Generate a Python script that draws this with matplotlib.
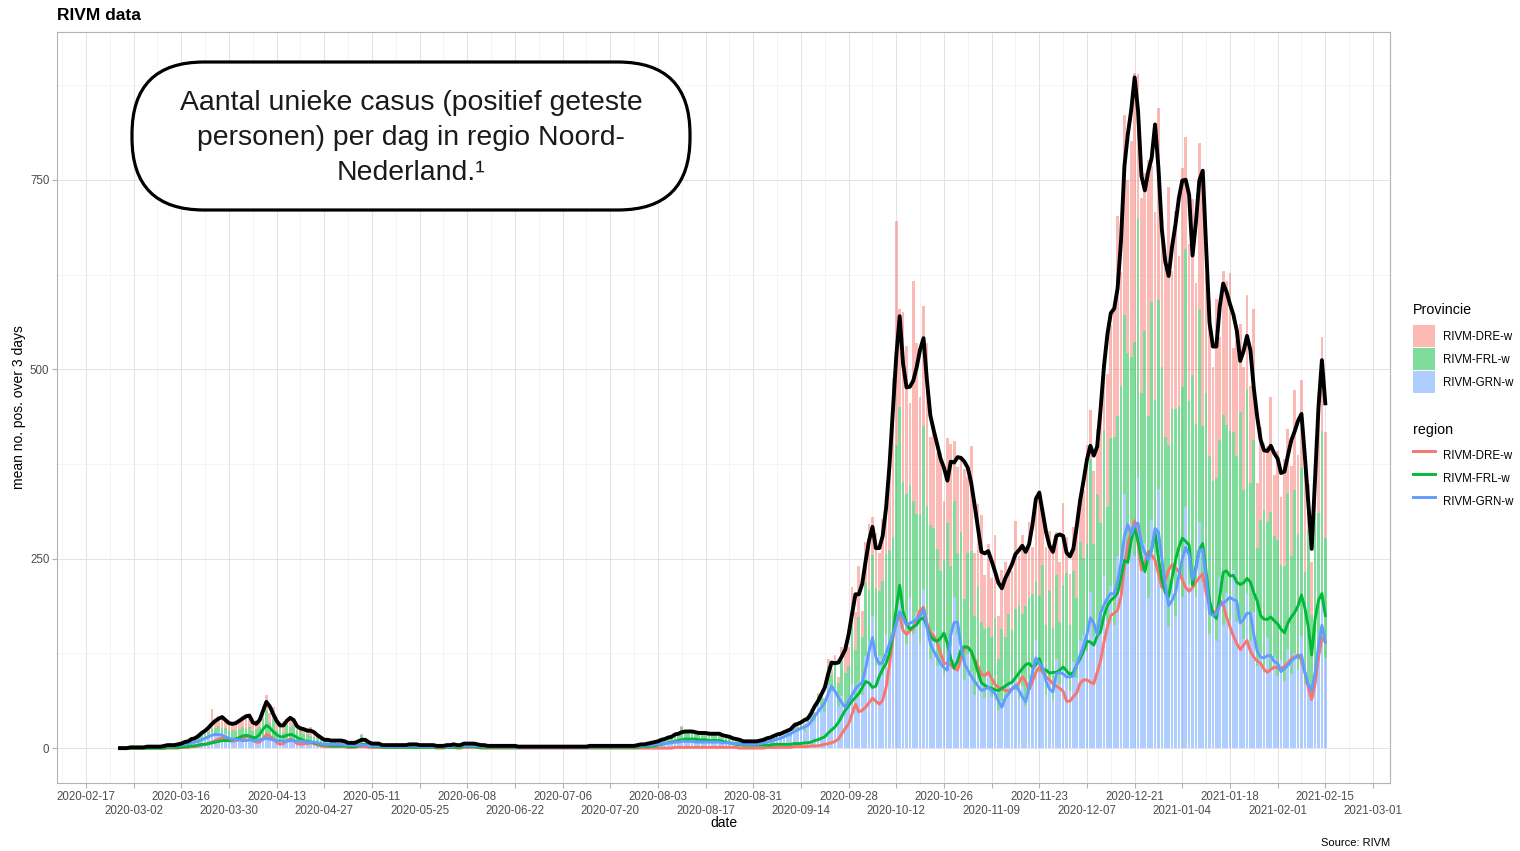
import numpy as np
import pandas as pd
import matplotlib as mpl
mpl.use('Agg')
import matplotlib.pyplot as plt
import matplotlib.dates as mdates
from matplotlib.patches import FancyBboxPatch, Patch
from matplotlib.lines import Line2D

mpl.rcParams['font.family'] = ['Liberation Sans', 'DejaVu Sans']

# ---- data (daily, 2020-02-27 .. 2021-02-15) ----
first_day = '2020-02-27'
last_day = '2021-02-15'
provinces = ['RIVM-DRE-w', 'RIVM-FRL-w', 'RIVM-GRN-w']

grn_bar = [0,0,1,0,1,2,1,1,2,3, 2,3,1,4,3,2,4,5,3,6, 5,9,7,10,12,15,13,20,16,21,
           15,18,11,14,9,13,8,12,10,11, 9,13,10,15,11,13,8,12,8,10, 12,9,10,8,11,7,9,7,8,5,
           6,4,6,5,4,6,3,5,4,3, 5,3,4,2,4,3,2,3,2,1, 2,3,1,2,3,2,4,3,2,1,
           2,3,1,2,2,3,1,2,4,3, 2,4,3,3,2,4,3,2,3,1, 2,3,1,2,2,1,3,1,0,1,
           1,2,0,1,1,2,1,0,1,1, 2,1,0,1,2,1,1,0,2,3, 1,2,3,2,1,2,3,2,1,2,
           2,3,2,4,3,3,5,4,6,5, 7,6,8,7,9,8,11,9,10,7, 9,7,8,10,7,8,9,6,8,7,
           5,7,6,4,6,5] + \
          [6,4,7,6,8,7,12,13,11,18, 18,15,25,22,27,22,35,38,36,58,
           57,48,83,74,79,54,69,59,53,84, 70,87,70,121,140,175,108,122,96,150,
           124,158,160,195,189,138,198,150,179,139, 210,176,117,154,108,118,96,124,135,199,
           149,142,90,124,100,70,94,84,66,96, 68,76,50,62,69,83,86,91,65,82,
           55,92,85,143,101,112,70,90,63,118, 85,108,103,75,114,93,142,149,128,206,
           148,158,151,227,168,214,162,253,208,336, 251,296,253,356,243,271,198,301,240,342,
           225,226,160,234,174,240,200,318,217,234, 200,298,219,236,151,184,142,226,162,205,
           169,235,167,173,144,205,142,180,109,126, 101,146,104,120,95,116,89,131,98,125,
           103,148,85,88,65,105,115,194,119]

frl_bar = [0,0,0,0,0,0,0,0,0,0, 0,0,1,0,1,0,2,1,1,3, 1,4,2,5,6,4,8,6,10,8,
           12,9,11,10,14,12,20,15,18,12, 16,15,28,35,22,25,15,18,12,20, 16,22,12,14,8,11,7,8,5,6,
           3,5,2,4,3,2,4,1,3,2, 1,14,2,4,1,3,2,1,2,0, 1,2,0,1,2,1,1,0,2,1,
           1,0,2,1,1,2,0,1,1,2, 1,3,2,1,3,1,2,0,1,2, 1,0,1,2,0,1,1,0,1,1,
           0,1,1,0,2,1,0,1,1,0, 1,0,1,1,0,2,1,1,0,1, 1,1,0,2,1,1,0,1,2,1,
           1,0,2,1,3,2,2,4,3,6, 5,8,7,10,9,20,10,13,11,14, 10,12,9,11,10,9,11,8,9,6,
           7,5,4,5,3,4] + \
          [4,5,4,4,3,4,6,5,6,5, 4,5,7,6,6,9,6,10,10,12,
           10,15,25,22,35,32,46,40,56,78, 60,86,76,97,69,80,103,86,125,106,
           138,120,240,255,162,197,149,176,130,170, 215,144,178,136,155,116,152,173,106,127,
           109,143,107,133,160,104,120,82,91,64, 79,96,68,95,78,94,70,93,124,95,
           132,106,118,78,100,130,93,119,95,110, 82,107,128,87,120,105,130,102,141,175,
           122,178,146,193,150,195,249,185,270,236, 270,220,283,343,225,280,240,288,219,250,
           278,185,240,214,273,212,277,341,241,258, 228,281,206,232,234,169,214,180,278,222,
           250,182,219,270,196,269,208,226,155,175, 213,153,208,160,180,126,152,206,156,215,
           179,222,148,200,111,204,195,224,158]

dre_bar = [0,0,0,0,0,0,0,0,0,0, 0,1,0,0,1,0,0,1,0,1, 1,2,4,3,5,4,8,25,12,14,
           16,10,13,7,12,9,15,18,14,16, 12,6,18,20,14,16,10,4,16,8, 15,9,4,7,5,9,12,4,5,2,
           3,1,2,3,1,2,3,1,0,2, 2,1,3,1,1,2,1,0,1,1, 1,0,1,1,0,2,1,1,0,1,
           0,1,1,0,0,1,0,1,1,0, 1,0,1,0,1,1,0,0,1,0, 0,0,1,0,0,0,0,1,0,0,
           0,0,0,1,0,0,0,0,0,1, 0,0,0,0,1,0,0,0,0,0, 0,1,0,0,0,0,0,1,0,0,
           0,0,1,0,0,0,1,0,0,0, 0,1,0,1,2,1,0,1,2,1, 1,0,2,1,1,0,1,2,1,0,
           1,0,1,0,0,1] + \
          [0,0,0,0,1,1,1,2,1,1, 1,1,3,1,2,2,2,4,2,3,
           4,3,9,8,9,8,19,38,24,50, 49,67,35,54,87,50,73,49,81,56,
           110,210,295,130,225,195,109,290,226,155, 158,214,115,136,126,156,78,112,160,79,
           113,100,172,101,139,83,108,141,72,110, 78,109,56,78,98,53,78,116,65,104,
           75,100,62,100,139,75,103,77,111,57, 79,109,47,68,58,95,60,90,131,65,
           96,85,150,98,176,149,178,264,150,264, 229,285,355,190,258,208,338,179,248,253,
           180,222,341,182,262,198,289,148,207,233, 186,220,320,154,207,150,237,137,190,190,
           208,111,152,117,163,124,128,174,86,123, 88,100,151,80,117,89,140,84,118,132,
           105,116,145,60,70,72,156,124,140]

# 3-day means per province
grn_mean = [0,0,0,1,1,1,1,1,2,2, 2,2,2,3,3,3,3,4,4,5, 6,7,8,9,11,13,15,17,18,18,
            17,15,13,12,11,11,10,10,11,10, 10,11,12,13,12,11,10,10,9,9, 10,10,9,9,9,8,8,8,7,6,
            5,5,5,5,5,5,4,4,4,4, 4,4,4,3,3,3,3,2,2,2, 2,2,2,2,2,3,3,3,2,2,
            2,2,2,2,2,2,2,2,3,3, 3,3,3,3,3,3,3,3,2,2, 2,2,2,2,2,2,2,1,1,1,
            1,1,1,1,1,1,1,1,1,1, 1,1,1,1,1,1,1,1,2,2, 2,2,2,2,2,2,2,2,2,2,
            2,2,3,3,3,4,4,5,5,6, 6,7,7,8,8,9,9,9,9,8, 8,8,8,8,8,8,8,7,7,7,
            6,6,6,5,5,5] + \
           [5,5,6,7,8,9,10,12,13,15, 17,19,22,24,26,28,30,35,42,48,
            54,60,72,82,75,67,60,54,62,70, 78,83,87,105,128,146,120,111,113,125,
            138,150,165,180,172,162,165,167,170,174, 183,160,138,128,120,112,106,103,150,166,
            166,135,112,103,95,88,82,76,78,80, 76,72,62,54,66,72,78,83,76,68,
            61,80,100,119,112,107,88,78,74,98, 100,98,94,94,95,110,123,135,150,172,
            165,150,178,189,198,204,203,220,245,280, 295,282,295,297,270,258,248,262,290,285,
            250,215,188,195,205,228,250,265,255,223, 235,262,262,225,178,175,177,188,191,195,
            199,196,194,165,170,178,178,150,128,120, 119,122,122,114,112,101,105,109,115,119,
            121,123,100,84,76,100,135,162,140]

frl_mean = [0,0,0,0,0,0,0,0,0,0, 0,0,0,0,1,1,1,1,1,2, 2,3,3,4,5,5,6,7,8,9,
            10,10,10,11,12,14,16,17,16,14, 14,18,25,30,27,22,18,15,15,17, 18,17,14,12,10,9,8,7,6,5,
            4,4,3,3,3,3,3,2,2,2, 3,5,5,4,2,2,2,1,1,1, 1,1,1,1,1,1,1,1,1,1,
            1,1,1,1,1,1,1,1,1,1, 1,2,2,2,2,1,1,1,1,1, 1,1,1,1,1,1,1,1,1,1,
            1,1,1,1,1,1,1,1,1,1, 1,1,1,1,1,1,1,1,1,1, 1,1,1,1,1,1,1,1,1,1,
            1,1,1,2,2,2,3,3,4,5, 6,7,8,9,10,11,12,12,12,12, 11,11,11,10,10,10,10,9,8,7,
            6,5,5,4,4,4] + \
           [4,4,4,4,4,4,5,5,5,5, 5,5,6,6,6,7,7,8,10,11,
            13,15,20,24,28,34,42,50,56,62, 67,72,80,88,86,80,82,95,104,112,
            125,150,185,215,180,164,157,160,163,170, 172,160,148,143,141,145,152,138,118,106,
            115,130,134,133,128,115,100,86,83,80, 79,77,76,79,82,85,87,93,99,105,
            110,112,107,110,118,104,103,99,100,100, 103,107,102,97,100,110,118,128,141,140,
            136,148,154,175,188,195,199,205,225,248, 245,275,290,274,250,233,253,262,285,250,
            222,205,200,225,248,265,277,273,268,215, 240,262,270,232,195,178,171,200,232,234,
            227,228,219,216,218,224,219,205,194,175, 170,170,173,168,164,157,152,165,173,179,
            188,202,185,160,123,170,195,204,175]

dre_mean = [0,0,0,0,0,0,0,0,0,0, 0,0,0,0,0,0,0,0,1,1, 1,2,2,3,4,5,6,8,10,12,
            14,12,10,9,10,11,13,15,16,10, 8,8,12,18,16,12,8,5,6,10, 12,10,6,5,6,6,7,6,4,3,
            2,2,2,2,2,2,2,1,1,1, 2,2,2,1,1,1,1,1,1,1, 1,1,1,1,1,1,1,1,1,1,
            1,1,1,0,0,0,1,1,1,0, 0,1,1,1,1,1,0,0,0,0, 0,0,0,0,0,0,0,0,0,0,
            0,0,0,0,0,0,0,0,0,0, 0,0,0,0,0,0,0,0,0,0, 0,0,0,0,0,0,0,0,0,0,
            0,0,0,0,0,0,0,0,0,0, 0,0,0,1,1,1,1,1,1,1, 1,1,1,1,1,1,1,1,1,1,
            1,1,0,0,0,0] + \
           [0,0,0,0,1,1,1,1,1,1, 1,1,2,2,2,2,2,3,3,3,
            4,5,6,7,9,12,19,26,32,45, 58,48,50,54,60,66,62,58,63,80,
            110,145,168,175,155,150,155,158,170,182, 186,165,153,148,140,125,112,112,110,105,
            103,118,132,134,127,118,108,97,96,100, 92,84,80,78,76,76,78,80,86,94,
            88,77,88,100,107,100,94,90,85,82, 79,75,62,62,68,73,86,90,90,87,
            85,100,115,140,160,175,178,182,200,240, 270,285,300,270,235,245,260,255,248,230,
            212,222,235,242,238,233,222,212,207,212, 219,225,230,205,188,177,182,195,190,173,
            160,148,138,130,136,142,128,120,115,112, 104,100,104,107,106,105,108,112,118,120,
            123,116,100,80,64,85,120,146,140]

tick_dates = ['2020-02-17', '2020-03-02', '2020-03-16', '2020-03-30', '2020-04-13', '2020-04-27',
              '2020-05-11', '2020-05-25', '2020-06-08', '2020-06-22', '2020-07-06', '2020-07-20',
              '2020-08-03', '2020-08-17', '2020-08-31', '2020-09-14', '2020-09-28', '2020-10-12',
              '2020-10-26', '2020-11-09', '2020-11-23', '2020-12-07', '2020-12-21', '2021-01-04',
              '2021-01-18', '2021-02-01', '2021-02-15', '2021-03-01']
y_ticks = [0, 250, 500, 750]

# colours (ggplot hue palette)
cols = {'RIVM-DRE-w': '#F8766D', 'RIVM-FRL-w': '#00BA38', 'RIVM-GRN-w': '#619CFF'}

dates = pd.date_range(first_day, last_day, freq='D')
x = mdates.date2num(dates)

fig = plt.figure(figsize=(15.2, 8.51), dpi=100)
ax = fig.add_axes([57/1520, 1 - 783/851, 1333/1520, 751/851])

g = np.array(grn_bar)
f = np.array(frl_bar)
d = np.array(dre_bar)
ax.bar(x, g, width=0.8, color=cols['RIVM-GRN-w'], alpha=0.5, linewidth=0, zorder=2)
ax.bar(x, f, bottom=g, width=0.8, color=cols['RIVM-FRL-w'], alpha=0.5, linewidth=0, zorder=2)
ax.bar(x, d, bottom=g + f, width=0.8, color=cols['RIVM-DRE-w'], alpha=0.5, linewidth=0, zorder=2)

ax.plot(x, dre_mean, color=cols['RIVM-DRE-w'], lw=2.1, zorder=3, solid_joinstyle='round')
ax.plot(x, frl_mean, color=cols['RIVM-FRL-w'], lw=2.1, zorder=3, solid_joinstyle='round')
ax.plot(x, grn_mean, color=cols['RIVM-GRN-w'], lw=2.1, zorder=3, solid_joinstyle='round')
total = np.array(dre_mean) + np.array(frl_mean) + np.array(grn_mean)
ax.plot(x, total, color='black', lw=2.8, zorder=4, solid_joinstyle='round')

# axes
ax.set_xlim(mdates.date2num(pd.Timestamp('2020-02-08 12:00')), mdates.date2num(pd.Timestamp('2021-03-06')))
ax.set_ylim(-46, 945)
tk = mdates.date2num(pd.to_datetime(tick_dates))
ax.set_xticks(tk)
ax.set_xticklabels(tick_dates)
ax.set_xticks(np.concatenate([[tk[0] - 7], tk[:-1] + 7]), minor=True)
ax.set_yticks(y_ticks)
ax.set_yticks([125, 375, 625, 875], minor=True)
ax.tick_params(which='major', length=3.5, width=0.8, color='#B3B3B3', labelsize=8.3,
               labelcolor='#4D4D4D', pad=2)
ax.tick_params(which='minor', length=0)
# two rows of date labels
for i, t in enumerate(ax.xaxis.get_major_ticks()):
    if i % 2 == 1:
        t.set_pad(12)
ax.set_axisbelow(True)
ax.grid(which='major', color='#E3E3E3', lw=0.7)
ax.grid(which='minor', color='#F0F0F0', lw=0.5)
for s in ax.spines.values():
    s.set_color('#B3B3B3')
    s.set_linewidth(0.8)

ax.set_ylabel('mean no. pos. over 3 days', fontsize=10)
ax.yaxis.set_label_coords(-0.0235, 0.5)
ax.set_xlabel('date', fontsize=10)
ax.xaxis.set_label_coords(0.5, -0.044)

fig.text(57/1520, 1 - 15/851, 'RIVM data', fontsize=12.5, weight='bold', ha='left', va='center')
fig.text(1390/1520, 1 - 843/851, 'Source: RIVM', fontsize=8, ha='right', va='center')

# annotation bubble
bubble = FancyBboxPatch((1.32, (851 - 210) / 100), 5.58, 1.48,
                        boxstyle='round,pad=0,rounding_size=0.72',
                        transform=fig.dpi_scale_trans, fc='white', ec='black', lw=2.3, zorder=10)
fig.add_artist(bubble)
fig.text(411/1520, 1 - 138/851,
         'Aantal unieke casus (positief geteste\npersonen) per dag in regio Noord-\nNederland.\u00b9',
         ha='center', va='center', multialignment='center', fontsize=20.4, linespacing=1.43,
         color='#1a1a1a', zorder=11)

# legends
fig.text(1413/1520, 1 - 310/851, 'Provincie', fontsize=10.3, ha='left', va='center')
fig.text(1413/1520, 1 - 430/851, 'region', fontsize=10.3, ha='left', va='center')
fill_handles = [Patch(facecolor=cols[p], alpha=0.5, linewidth=0) for p in provinces]
line_handles = [Line2D([], [], color=cols[p], lw=2.1) for p in provinces]
leg_kw = dict(loc='upper left', frameon=False, fontsize=8.3, handlelength=1.9, handleheight=2.56,
              handletextpad=0.7, labelspacing=0.09, borderpad=0, borderaxespad=0)
fig.legend(fill_handles, provinces, bbox_to_anchor=(1413/1520, 1 - 325/851), **leg_kw)
fig.legend(line_handles, provinces, bbox_to_anchor=(1413/1520, 1 - 444/851), **leg_kw)

fig.savefig('out.png', dpi=100)
